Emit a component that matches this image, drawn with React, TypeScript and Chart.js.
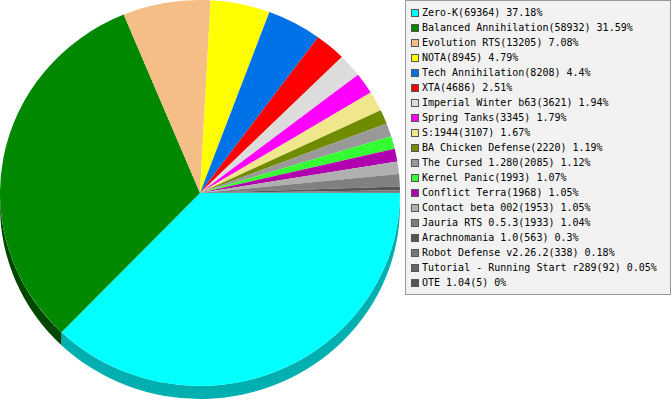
import React, { useEffect, useRef } from "react";
import { Chart, registerables } from "chart.js";

Chart.register(...registerables);

// Games and how many times each was played
const games = [
  "Zero-K",
  "Balanced Annihilation",
  "Evolution RTS",
  "NOTA",
  "Tech Annihilation",
  "XTA",
  "Imperial Winter b63",
  "Spring Tanks",
  "S:1944",
  "BA Chicken Defense",
  "The Cursed 1.280",
  "Kernel Panic",
  "Conflict Terra",
  "Contact beta 002",
  "Jauria RTS 0.5.3",
  "Arachnomania 1.0",
  "Robot Defense v2.26.2",
  "Tutorial - Running Start r289",
  "OTE 1.04",
];

const counts = [
  69364, 58932, 13205, 8945, 8208, 4686, 3621, 3345, 3107, 2220, 2085, 1993,
  1968, 1953, 1933, 563, 338, 92, 5,
];

const colors = [
  "#00ffff",
  "#008800",
  "#f5be86",
  "#ffff00",
  "#0072e8",
  "#ff0000",
  "#dcdcdc",
  "#ff00ff",
  "#f0e68c",
  "#6f8c00",
  "#999999",
  "#33ff33",
  "#b000b0",
  "#b0b0b0",
  "#808080",
  "#555555",
  "#777777",
  "#666666",
  "#555555",
];

// Shades used for the visible side wall of each slice
const sideColors = [
  "#00b0b0",
  "#004800",
  "#a98359",
  "#b0b000",
  "#004fa0",
  "#b00000",
  "#989898",
  "#b000b0",
  "#a69f61",
  "#4d6100",
  "#6a6a6a",
  "#23b023",
  "#790079",
  "#7a7a7a",
  "#585858",
  "#3b3b3b",
  "#525252",
  "#464646",
  "#3b3b3b",
];

const total = counts.reduce((a, b) => a + b, 0);
const percentText = (v: number) => String(Math.round((v / total) * 10000) / 100);

// Tilt of the pie: vertical squash and the height of the side wall
const SQUASH = 0.965;
const CENTER_Y = 193;
const DEPTH = 13;

const pie3d = {
  id: "pie3d",
  beforeDatasetsDraw(chart: any) {
    const ctx = chart.ctx as CanvasRenderingContext2D;
    const meta = chart.getDatasetMeta(0);
    const half = chart.height / 2;
    const ty = CENTER_Y - half * SQUASH;
    meta.data.forEach((arc: any, i: number) => {
      const p = arc.getProps(["x", "y", "startAngle", "endAngle", "outerRadius"], true);
      const a = Math.max(p.startAngle, 0);
      const b = Math.min(p.endAngle, Math.PI);
      if (b <= a) return;
      const cy = ty + p.y * SQUASH;
      const rx = p.outerRadius;
      const ry = p.outerRadius * SQUASH;
      ctx.beginPath();
      ctx.ellipse(p.x, cy, rx, ry, 0, a, b);
      ctx.ellipse(p.x, cy + DEPTH, rx, ry, 0, b, a, true);
      ctx.closePath();
      ctx.fillStyle = sideColors[i];
      ctx.fill();
    });
    ctx.save();
    ctx.translate(0, ty);
    ctx.scale(1, SQUASH);
  },
  afterDatasetsDraw(chart: any) {
    chart.ctx.restore();
  },
};

function PieCanvas() {
  const ref = useRef<HTMLCanvasElement | null>(null);
  useEffect(() => {
    if (!ref.current) return;
    const chart = new Chart(ref.current, {
      type: "pie",
      data: {
        labels: games,
        datasets: [
          {
            data: counts,
            backgroundColor: colors,
            borderWidth: 0,
          },
        ],
      },
      options: {
        animation: false,
        responsive: false,
        maintainAspectRatio: false,
        rotation: 90,
        events: [],
        layout: { padding: 0 },
        plugins: {
          legend: { display: false },
          tooltip: { enabled: false },
        },
      },
      plugins: [pie3d],
    });
    return () => chart.destroy();
  }, []);
  return (
    <canvas
      ref={ref}
      width={400}
      height={400}
      style={{ position: "absolute", left: 0, top: 0, width: 400, height: 400 }}
    />
  );
}

function Legend() {
  return (
    <div
      style={{
        position: "absolute",
        left: 405,
        top: 0,
        width: 266,
        height: 295,
        boxSizing: "border-box",
        border: "1px solid #999999",
        background: "#f2f2f2",
        fontFamily: "'DejaVu Sans Mono', monospace",
        fontSize: 10,
        color: "#000",
      }}
    >
      {games.map((g, i) => (
        <div
          key={g}
          style={{
            position: "absolute",
            left: 0,
            top: 4 + i * 15,
            height: 15,
            width: 260,
          }}
        >
          <div
            style={{
              position: "absolute",
              left: 5,
              top: 3.5,
              width: 8,
              height: 8,
              boxSizing: "border-box",
              border: "1px solid #555",
              background: colors[i],
            }}
          />
          <div
            style={{
              position: "absolute",
              left: 16,
              top: 0,
              lineHeight: "15px",
              whiteSpace: "pre",
            }}
          >
            {`${g}(${counts[i]}) ${percentText(counts[i])}%`}
          </div>
        </div>
      ))}
    </div>
  );
}

export default function App() {
  return (
    <div
      style={{
        position: "absolute",
        left: 0,
        top: 0,
        width: 671,
        height: 400,
        background: "#fff",
        overflow: "hidden",
      }}
    >
      <PieCanvas />
      <Legend />
    </div>
  );
}
